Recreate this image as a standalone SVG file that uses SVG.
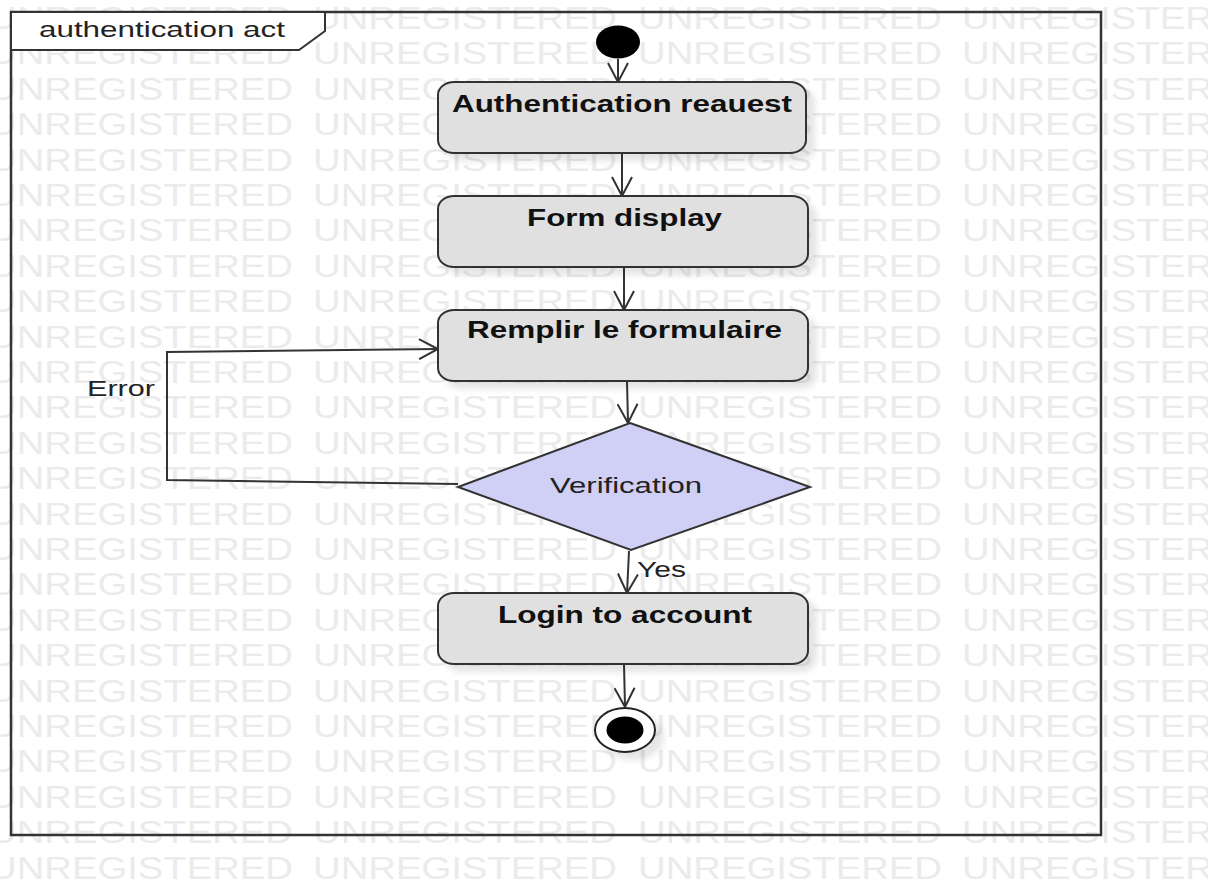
<svg xmlns="http://www.w3.org/2000/svg" xmlns:xlink="http://www.w3.org/1999/xlink" width="1208" height="883" viewBox="0 0 1208 883">
<style>
.wm{font-family:"Liberation Sans",Arial,sans-serif;font-size:31px;fill:#ebebeb}
.act{fill:#e0e0e0;stroke:#333;stroke-width:2}
.lbl{font-family:"Liberation Sans",Arial,sans-serif;font-size:23px;font-weight:bold;fill:#111}
.txt{font-family:"Liberation Sans",Arial,sans-serif;font-size:22px;fill:#222}
.edge{fill:none;stroke:#333;stroke-width:2}
</style>
<defs>
<filter id="sh" x="-10%" y="-20%" width="130%" height="150%">
<feDropShadow dx="8" dy="7" stdDeviation="3" flood-color="#000" flood-opacity="0.10"/>
</filter>
<marker id="arr" viewBox="0 0 22 22" refX="20" refY="11" markerWidth="22" markerHeight="22" markerUnits="userSpaceOnUse" orient="auto">
<path d="M1,1 L20,11 L1,21" fill="none" stroke="#333" stroke-width="2"/>
</marker>
<g id="wmrow">
<text class="wm" x="-11" y="0" textLength="304" lengthAdjust="spacingAndGlyphs">UNREGISTERED</text>
<text class="wm" x="313" y="0" textLength="304" lengthAdjust="spacingAndGlyphs">UNREGISTERED</text>
<text class="wm" x="638" y="0" textLength="304" lengthAdjust="spacingAndGlyphs">UNREGISTERED</text>
<text class="wm" x="962" y="0" textLength="304" lengthAdjust="spacingAndGlyphs">UNREGISTERED</text>
</g>
</defs>
<rect width="1208" height="883" fill="#fff"/>
<g id="watermark">
<use xlink:href="#wmrow" y="29"/><use xlink:href="#wmrow" y="64.4"/><use xlink:href="#wmrow" y="99.8"/><use xlink:href="#wmrow" y="135.2"/><use xlink:href="#wmrow" y="170.6"/><use xlink:href="#wmrow" y="206"/><use xlink:href="#wmrow" y="241.4"/><use xlink:href="#wmrow" y="276.8"/><use xlink:href="#wmrow" y="312.2"/><use xlink:href="#wmrow" y="347.6"/><use xlink:href="#wmrow" y="383"/><use xlink:href="#wmrow" y="418.4"/><use xlink:href="#wmrow" y="453.8"/><use xlink:href="#wmrow" y="489.2"/><use xlink:href="#wmrow" y="524.6"/><use xlink:href="#wmrow" y="560"/><use xlink:href="#wmrow" y="595.4"/><use xlink:href="#wmrow" y="630.8"/><use xlink:href="#wmrow" y="666.2"/><use xlink:href="#wmrow" y="701.6"/><use xlink:href="#wmrow" y="737"/><use xlink:href="#wmrow" y="772.4"/><use xlink:href="#wmrow" y="807.8"/><use xlink:href="#wmrow" y="843.2"/><use xlink:href="#wmrow" y="878.6"/>
</g>
<g id="frame">
<rect x="11" y="12" width="1090" height="823" fill="none" stroke="#333" stroke-width="2.5"/>
<path d="M11,12 L325,12 L325,31 L299,50 L11,50 Z" fill="#fff" stroke="#333" stroke-width="2"/>
<text class="txt" x="39" y="37" font-size="23" textLength="246" lengthAdjust="spacingAndGlyphs">authentication act</text>
</g>
<g id="connectors">
<line class="edge" x1="618" y1="59" x2="618" y2="82" marker-end="url(#arr)"/>
<line class="edge" x1="622" y1="153" x2="622" y2="196" marker-end="url(#arr)"/>
<line class="edge" x1="624" y1="267" x2="624" y2="310" marker-end="url(#arr)"/>
<line class="edge" x1="627" y1="381" x2="628" y2="423" marker-end="url(#arr)"/>
<line class="edge" x1="629" y1="551" x2="627" y2="593" marker-end="url(#arr)"/>
<line class="edge" x1="624" y1="664" x2="625" y2="707" marker-end="url(#arr)"/>
<polyline class="edge" points="458,484 167,480 167,352 438,349" marker-end="url(#arr)"/>
<text class="txt" x="87" y="396" textLength="68" lengthAdjust="spacingAndGlyphs">Error</text>
<text class="txt" x="637" y="577" textLength="49" lengthAdjust="spacingAndGlyphs">Yes</text>
</g>
<g id="start">
<ellipse cx="618" cy="42" rx="22" ry="16.5" fill="#000"/>
</g>
<g id="auth-request">
<rect class="act" x="438" y="82" width="368" height="71" rx="16" ry="13" filter="url(#sh)"/>
<text class="lbl" x="452" y="112" textLength="340" lengthAdjust="spacingAndGlyphs">Authentication reauest</text>
</g>
<g id="form-display">
<rect class="act" x="438" y="196" width="370" height="71" rx="16" ry="13" filter="url(#sh)"/>
<text class="lbl" x="527" y="226" textLength="195" lengthAdjust="spacingAndGlyphs">Form display</text>
</g>
<g id="remplir">
<rect class="act" x="438" y="310" width="370" height="71" rx="16" ry="13" filter="url(#sh)"/>
<text class="lbl" x="467" y="338" textLength="315" lengthAdjust="spacingAndGlyphs">Remplir le formulaire</text>
</g>
<g id="verification">
<polygon points="630,423 810,487 631,550 458,487" fill="#d0d0f7" stroke="#333" stroke-width="2"/>
<text class="txt" x="550" y="493" font-size="23" fill="#2a2a3a" textLength="152" lengthAdjust="spacingAndGlyphs">Verification</text>
</g>
<g id="login">
<rect class="act" x="438" y="593" width="370" height="71" rx="16" ry="13" filter="url(#sh)"/>
<text class="lbl" x="498" y="623" textLength="254" lengthAdjust="spacingAndGlyphs">Login to account</text>
</g>
<g id="end">
<ellipse cx="625" cy="730" rx="30" ry="22" fill="#fff" stroke="#222" stroke-width="2" filter="url(#sh)"/>
<ellipse cx="625" cy="730" rx="18.5" ry="13.5" fill="#000"/>
</g>
</svg>
